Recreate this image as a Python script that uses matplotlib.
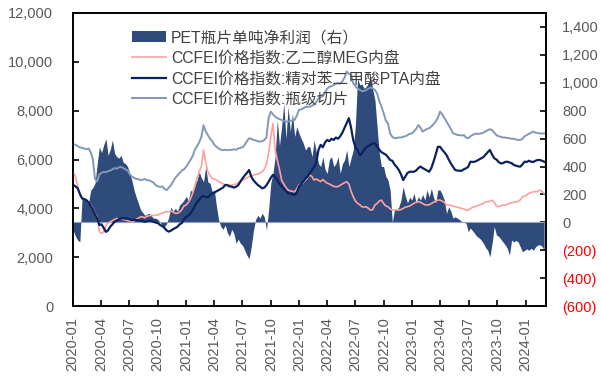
import numpy as np
import pandas as pd
import matplotlib
matplotlib.use("Agg")
import matplotlib.pyplot as plt
import matplotlib.dates as mdates
from matplotlib.patches import Patch
from matplotlib.lines import Line2D

plt.rcParams['font.family'] = ['Liberation Sans', 'Noto Sans CJK SC', 'DejaVu Sans']

# --- datos semanales (viernes) ---
week_start = "2020-01-03"

# PET瓶片单吨净利润, 元/吨 (eje derecho)
pet_profit = [
    -60, -100, -127, -140, 170, 180, 160, 140, 230, 250, 280, 420, 540,
    500, 555, 600, 480, 520, 590, 495, 470, 460, 480, 430, 420, 400,
    350, 300, 230, 180, 135, 90, 70, 50, 60, 65, 45, 30, 30,
    20, 0, -20, -30, -10, 40, 110, 80, 100, 80, 125, 140, 160,
    # 2021
    185, 160, 230, 220, 280, 300, 360, 320, 290, 400, 290, 280, 220,
    230, 110, 15, -30, -50, -20, -75, -100, -50, -80, -150, -120, -150,
    -165, -200, -235, -260, -175, -60, 20, 50, 30, 65, 40, -55, 90,
    280, 350, 470, 733, 550, 685, 853, 600, 830, 650, 780, 614, 685,
    # 2022
    638, 600, 566, 518, 542, 542, 470, 590, 500, 420, 400, 470, 380,
    350, 450, 470, 400, 420, 470, 350, 420, 447, 518, 400, 460, 518,
    700, 1032, 985, 990, 960, 972, 1000, 1044, 950, 877, 685, 495, 400,
    400, 330, 303, 232, 0, 90, 90, 110, 160, 255, 190, 140, 180,
    # 2023
    160, 208, 140, 184, 160, 200, 160, 232, 180, 244, 180, 140, 232,
    232, 200, 160, 65, 112, 80, 30, 40, 30, 20, 5, 0, -5,
    -67, -40, -60, -80, -100, -110, -127, -150, -180, -200, -247, -150, -30,
    -90, -100, -120, -140, -160, -186, -235, -127, -140, -130, -140, -175, -210,
    # 2024
    -200, -190, -200, -185, -200, -175, -163, -160, -170, -200,
]

# CCFEI价格指数:乙二醇MEG内盘
meg_price = [
    5450, 5300, 4890, 4600, 4410, 4380, 4340, 4250, 4150, 4000, 3800, 3660, 3040,
    2980, 3050, 3300, 3400, 3450, 3500, 3550, 3590, 3550, 3580, 3550, 3520, 3500,
    3480, 3450, 3480, 3550, 3600, 3660, 3650, 3620, 3680, 3700, 3720, 3700, 3730,
    3730, 3780, 3800, 3850, 3860, 3860, 3900, 3850, 3800, 3800, 3850, 3950, 4100,
    # 2021
    4140, 4250, 4400, 4620, 4900, 5230, 5500, 5710, 6390, 5900, 5500, 5350, 5230,
    5200, 5160, 5100, 5050, 5000, 4960, 4980, 4960, 4950, 4980, 5000, 5050, 5100,
    5160, 5200, 5250, 5300, 5350, 5350, 5400, 5400, 5450, 5500, 5600, 5800, 6250,
    6930, 7480, 6400, 5980, 5600, 5160, 5000, 4850, 4750, 4720, 4700, 4680, 4800,
    # 2022
    4960, 5000, 5050, 5160, 5250, 5370, 5300, 5160, 5200, 5150, 5100, 5180, 5100,
    5030, 5000, 4950, 4900, 4890, 4890, 4950, 5000, 5050, 5090, 5000, 4700, 4480,
    4300, 4210, 4150, 4070, 4050, 4070, 4000, 3930, 3950, 4140, 4200, 4300, 4340,
    4200, 4100, 4070, 3980, 3930, 3930, 3950, 3930, 3950, 4000, 4050, 4070, 4100,
    # 2023
    4150, 4210, 4250, 4270, 4250, 4200, 4150, 4140, 4150, 4200, 4250, 4300, 4340,
    4340, 4300, 4250, 4150, 4140, 4120, 4100, 4070, 4050, 4020, 4000, 3980, 3930,
    3930, 3980, 4050, 4070, 4100, 4140, 4170, 4200, 4270, 4270, 4300, 4340, 4250,
    4100, 4070, 4100, 4140, 4130, 4170, 4210, 4230, 4250, 4270, 4280, 4350, 4480,
    # 2024
    4500, 4550, 4620, 4650, 4680, 4680, 4700, 4750, 4700, 4600,
]

# CCFEI价格指数:精对苯二甲酸PTA内盘
pta_price = [
    4960, 4900, 4820, 4600, 4410, 4380, 4340, 4250, 4100, 3950, 3750, 3600, 3320,
    3350, 3200, 3040, 3100, 3250, 3350, 3450, 3500, 3550, 3590, 3600, 3580, 3590,
    3550, 3520, 3530, 3520, 3520, 3500, 3480, 3450, 3480, 3500, 3480, 3450, 3420,
    3400, 3320, 3280, 3200, 3100, 3050, 3090, 3150, 3200, 3250, 3350, 3400, 3550,
    # 2021
    3660, 3700, 3800, 3930, 4100, 4250, 4340, 4480, 4500, 4480, 4450, 4550, 4620,
    4650, 4700, 4750, 4800, 4850, 4960, 4950, 4900, 4890, 4850, 4890, 4950, 5100,
    5230, 5350, 5450, 5570, 5300, 5150, 5050, 4960, 4900, 4820, 4850, 4950, 5090,
    5250, 5370, 5300, 5160, 5000, 4900, 4820, 4700, 4620, 4600, 4580, 4550, 4650,
    # 2022
    4890, 5000, 5100, 5230, 5300, 5450, 5570, 5700, 5900, 6400, 6600, 6500, 6700,
    6800, 6750, 6850, 6800, 6900, 6850, 6950, 7100, 7300, 7500, 7690, 7300, 6800,
    6500, 6390, 6180, 6250, 6400, 6500, 6550, 6600, 6660, 6660, 6550, 6400, 6300,
    6250, 6200, 6100, 5980, 5950, 5800, 5700, 5570, 5400, 5160, 5300, 5450, 5500,
    # 2023
    5500, 5500, 5550, 5650, 5710, 5650, 5600, 5550, 5500, 5650, 5910, 6200, 6520,
    6520, 6400, 6300, 6180, 6000, 5840, 5700, 5570, 5550, 5540, 5540, 5600, 5640,
    5700, 5910, 5900, 5910, 5950, 6000, 6050, 6100, 6200, 6300, 6390, 6200, 6050,
    6000, 5900, 5840, 5850, 5900, 5910, 5880, 5850, 5780, 5750, 5720, 5710, 5800,
    # 2024
    5910, 5900, 5950, 5910, 5900, 5950, 5980, 5980, 5950, 5910,
]

# CCFEI价格指数:瓶级切片
chip_price = [
    6620, 6600, 6550, 6500, 6480, 6450, 6420, 6450, 6300, 6000, 5200, 5100, 5400,
    5450, 5500, 5480, 5520, 5550, 5600, 5650, 5620, 5680, 5700, 5650, 5600, 5550,
    5400, 5300, 5250, 5200, 5200, 5150, 5180, 5200, 5150, 5150, 5100, 5050, 4950,
    4900, 4880, 4900, 4800, 4750, 4850, 4950, 5100, 5250, 5350, 5450, 5550, 5600,
    # 2021
    5700, 5850, 5980, 6150, 6400, 6550, 6700, 6930, 7400, 7150, 7000, 6850, 6750,
    6600, 6520, 6450, 6400, 6380, 6400, 6380, 6400, 6390, 6420, 6400, 6450, 6480,
    6500, 6600, 6750, 6870, 6850, 6800, 6780, 6750, 6730, 6750, 6800, 6900, 7700,
    7960, 7850, 7750, 7700, 7650, 7620, 7580, 7550, 7550, 7580, 7600, 7620, 7800,
    # 2022
    8030, 8050, 8100, 8150, 8160, 8160, 8200, 8250, 8350, 8500, 8550, 8600, 8750,
    8900, 8980, 9000, 9050, 9100, 9120, 9100, 9200, 9350, 9600, 9500, 9460, 9120,
    9000, 8900, 8850, 8800, 8800, 8850, 8900, 8950, 8900, 8850, 8700, 8400, 8160,
    7900, 7600, 7480, 7070, 6930, 6870, 6880, 6900, 6900, 6930, 6950, 7000, 7050,
    # 2023
    7070, 7150, 7250, 7410, 7300, 7140, 7200, 7250, 7280, 7350, 7450, 7550, 7700,
    7960, 7850, 7700, 7550, 7400, 7250, 7070, 7050, 7000, 7000, 6980, 7000, 6900,
    6870, 6950, 7000, 7050, 7050, 7050, 7070, 7100, 7150, 7200, 7240, 7200, 7100,
    7000, 6950, 6930, 6900, 6900, 6880, 6870, 6850, 6850, 6820, 6800, 6800, 6850,
    # 2024
    6950, 7000, 7050, 7100, 7140, 7100, 7080, 7070, 7060, 7070,
]

labels = [
    "PET瓶片单吨净利润（右）",
    "CCFEI价格指数:乙二醇MEG内盘",
    "CCFEI价格指数:精对苯二甲酸PTA内盘",
    "CCFEI价格指数:瓶级切片",
]

left_ticks = np.arange(0, 12001, 2000)
right_ticks = np.arange(-600, 1401, 200)

c_area = "#2f4b7c"
c_meg = "#ff9f9f"
c_pta = "#0b2260"
c_chip = "#8497b6"
c_text = "#595959"

weeks = pd.date_range(week_start, periods=len(pet_profit), freq="7D")

fig = plt.figure(figsize=(6.01, 3.78), dpi=100)
ax = fig.add_axes([0.121, 0.190, 0.787, 0.776])
ax2 = ax.twinx()

# área de beneficio en el eje derecho, líneas de precio encima
ax2.fill_between(weeks, 0, pet_profit, color=c_area, linewidth=0)
ax2.axhline(0, color="#8fa2c4", linewidth=0.8)
ax.set_zorder(ax2.get_zorder() + 1)
ax.patch.set_visible(False)

ax.plot(weeks, meg_price, color=c_meg, linewidth=1.2)
ax.plot(weeks, pta_price, color=c_pta, linewidth=1.6)
ax.plot(weeks, chip_price, color=c_chip, linewidth=1.4)

ax.set_xlim(pd.Timestamp("2020-01-01"), pd.Timestamp("2024-03-06"))
ax.set_ylim(0, 12000)
ax2.set_ylim(-600, 1500)

ax.xaxis.set_major_locator(mdates.MonthLocator(bymonth=[1, 4, 7, 10]))
ax.xaxis.set_major_formatter(mdates.DateFormatter("%Y-%m"))
plt.setp(ax.get_xticklabels(), rotation=90)

ax.set_yticks(left_ticks)
ax.set_yticklabels([f"{v:,}" for v in left_ticks])
ax2.set_yticks(right_ticks)
ax2.set_yticklabels([f"({abs(v):,})" if v < 0 else f"{v:,}" for v in right_ticks])
for v, lab in zip(right_ticks, ax2.get_yticklabels()):
    lab.set_color("#ff0000" if v < 0 else c_text)

ax.tick_params(axis="x", direction="in", length=4, width=1.2, pad=8,
               labelsize=10.5, labelcolor=c_text)
ax.tick_params(axis="y", direction="in", length=4, width=1.2, pad=14,
               labelsize=10.5, labelcolor=c_text)
ax2.tick_params(axis="y", direction="in", length=4, width=1.2, pad=12,
                labelsize=10.5)

for a in (ax, ax2):
    for s in a.spines.values():
        s.set_color("black")
        s.set_linewidth(1.2)

handles = [
    Patch(facecolor=c_area, edgecolor="none"),
    Line2D([], [], color=c_meg, linewidth=1.2),
    Line2D([], [], color=c_pta, linewidth=1.6),
    Line2D([], [], color=c_chip, linewidth=1.4),
]
leg = ax.legend(handles, labels, loc="upper left", bbox_to_anchor=(0.125, 0.94),
                frameon=False, fontsize=11.3, borderaxespad=0, borderpad=0,
                handlelength=2.2, handletextpad=0.3, labelspacing=0.35)
for t in leg.get_texts():
    t.set_color("#404040")

fig.savefig("out.png", dpi=100)
